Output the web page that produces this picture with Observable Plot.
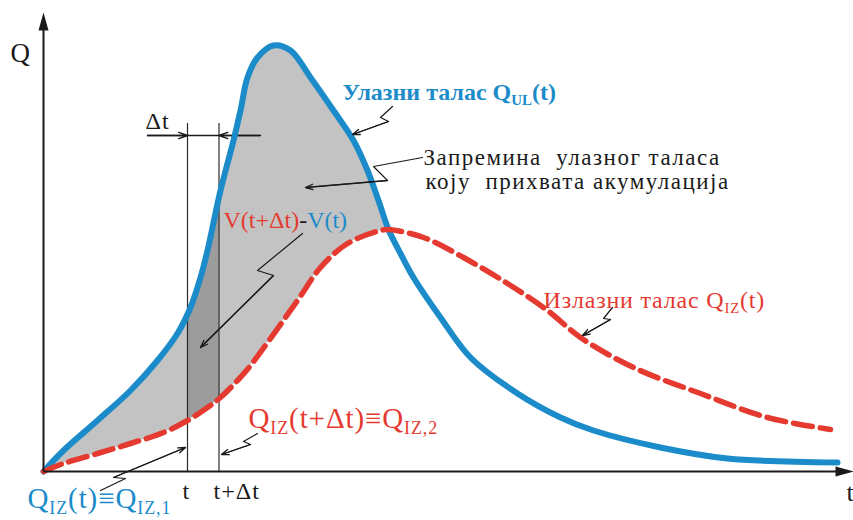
<!DOCTYPE html>
<html>
<head>
<meta charset="utf-8">
<script src="https://cdn.jsdelivr.net/npm/d3@7"></script>
<script src="https://cdn.jsdelivr.net/npm/@observablehq/plot@0.6"></script>
<style>
  body { margin: 0; background: #fff; }
  svg { display: block; }
  svg text { white-space: pre; }
</style>
</head>
<body>
<div id="chart"></div>
<script>
// Inflow hydrograph Q_UL(t)
const inflowT = [0, 2.0, 5.4, 8.7, 11.4, 13.4, 14.7, 15.7, 16.4, 17.7, 19.0, 19.7, 20.4, 21.4, 23.0, 24.7, 26.7, 29.0, 31.0, 32.4, 33.5, 34.5, 35.7, 37.0, 39.7, 42.7, 47.4, 51.7, 55.0, 61.7, 68.4, 79.4];
const inflowQ = [0, 2.1, 5.1, 8.1, 11.1, 13.8, 16.4, 19.4, 22.1, 28.1, 33.1, 36.1, 39.4, 41.4, 42.6, 42.1, 39.4, 36.1, 33.1, 30.1, 27.1, 24.2, 21.8, 19.4, 15.4, 11.4, 7.8, 5.4, 4.1, 2.4, 1.3, 0.9];

// Outflow hydrograph Q_IZ(t)
const outflowT = [0, 2.0, 5.4, 8.7, 12.0, 14.4, 16.4, 17.7, 19.4, 20.7, 25.4, 27.7, 30.4, 33.7, 34.5, 38.0, 42.0, 46.4, 50.4, 53.7, 59.0, 65.7, 72.4, 78.7];
const outflowQ = [0, 0.8, 1.8, 2.8, 3.9, 5.1, 6.4, 7.4, 9.1, 10.6, 17.1, 20.4, 22.8, 24.1, 24.2, 23.4, 21.4, 18.8, 16.1, 13.4, 10.4, 7.8, 5.4, 4.2];

// Time step [t, t+Δt] and the moment the two waves meet
const stepT = 14.4;
const stepDt = 3.15;
const crossT = 34.5;

// Axis extents
const tMax = 81;
const qMax = 45.8;

const inflow = inflowT.map((t, i) => ({t, q: inflowQ[i]}));
const outflow = outflowT.map((t, i) => ({t, q: outflowQ[i]}));

const BLUE = "#1b8bca";
const RED = "#e53a30";
const INK = "#1a1a1a";
const SERIF = "Liberation Serif";
const colors = {b: BLUE, r: RED, k: INK};

// Labels: pieces of text with colour code; a trailing "_" marks a subscript
const labels = [
  {t: -3.3, q: 41.0, size: 27, parts: [["Q", "k"]]},
  {t: 10.2, q: 34.3, size: 24, spacing: 1, parts: [["Δt", "k"]]},
  {t: 29.9, q: 37.2, size: 24, bold: true, parts: [["Улазни талас Q", "b"], ["UL", "b_"], ["(t)", "b"]]},
  {t: 38.0, q: 30.7, size: 23, spacing: 1.5, parts: [["Запремина  улазног таласа", "k"]]},
  {t: 38.2, q: 28.3, size: 23, spacing: 1.5, parts: [["коју  прихвата акумулација", "k"]]},
  {t: 18.0, q: 24.4, size: 24, parts: [["V(t+Δt)", "r"], ["-", "k"], ["V(t)", "b"]]},
  {t: 50.0, q: 16.4, size: 24, spacing: 0.8, parts: [["Излазни талас Q", "r"], ["IZ", "r_"], ["(t)", "r"]]},
  {t: 20.5, q: 4.4, size: 29, spacing: 0.9, parts: [["Q", "r"], ["IZ", "r_"], ["(t+Δt)≡Q", "r"], ["IZ,2", "r_"]]},
  {t: -1.6, q: -3.6, size: 29, spacing: 0.9, parts: [["Q", "b"], ["IZ", "b_"], ["(t)≡Q", "b"], ["IZ,1", "b_"]]},
  {t: 13.9, q: -2.7, size: 24, parts: [["t", "k"]]},
  {t: 17.0, q: -2.7, size: 24, spacing: 1, parts: [["t+Δt", "k"]]},
  {t: 80.3, q: -2.9, size: 26, parts: [["t", "k"]]}
];

// Zig-zag leader lines; the last segment ends in an arrowhead
const leaders = [
  [[34.9, 36.5], [33.7, 35.4], [34.5, 35.0], [30.9, 33.7]],
  [[37.9, 31.4], [33.0, 30.5], [34.4, 29.1], [26.2, 28.4]],
  [[25.9, 23.8], [21.4, 20.1], [23.0, 19.6], [15.7, 12.4]],
  [[56.9, 16.4], [56.0, 15.3], [56.7, 15.2], [53.9, 13.6]],
  [[21.4, 3.8], [20.0, 3.0], [20.7, 2.7], [17.8, 1.7]],
  [[5.7, -1.9], [8.2, -0.7], [7.0, -0.6], [14.2, 2.4]]
];
const leaderPoints = leaders.flatMap((pts, id) => pts.map(([t, q]) => ({id, t, q})));
const leaderHeads = leaders.map((pts) => {
  const [a, b] = pts.slice(-2);
  return {t1: a[0], q1: a[1], t2: b[0], q2: b[1]};
});

// Δt dimension line
const dimQ = 33.6;
const dimLeft = 10.4;
const dimRight = 21.7;
const stepTop = 34.8;

const inflowRise = inflow.filter((d) => d.t <= crossT);
const outflowRise = outflow.filter((d) => d.t <= crossT);

const curve = "catmull-rom";
const hasSpike = typeof Plot.spike === "function";

const axisHeads = hasSpike
  ? [
      Plot.vector([0], {x: 0, y: qMax - 1.7, length: 18, r: 5, rotate: 0, shape: "spike", anchor: "start", fill: INK, stroke: "none"}),
      Plot.vector([0], {x: tMax - 0.1 - 1.7, y: 0, length: 18, r: 5, rotate: 90, shape: "spike", anchor: "start", fill: INK, stroke: "none"})
    ]
  : [
      Plot.arrow([0], {x1: 0, y1: 0, x2: 0, y2: qMax, stroke: INK, strokeWidth: 2, headLength: 16, headAngle: 30}),
      Plot.arrow([0], {x1: 0, y1: 0, x2: tMax - 0.1, y2: 0, stroke: INK, strokeWidth: 2, headLength: 16, headAngle: 30})
    ];

const plot = Plot.plot({
  width: 853,
  height: 520,
  marginLeft: 43,
  marginRight: 0,
  marginTop: 13,
  marginBottom: 49,
  x: {domain: [0, tMax], axis: null},
  y: {domain: [0, qMax], axis: null},
  style: {background: "#fff", overflow: "visible"},
  marks: [
    // storage volume between the two waves
    Plot.areaY(inflowRise, {x: "t", y: "q", fill: "#c3c3c3", curve}),
    Plot.rect([0], {x1: stepT, x2: stepT + stepDt, y1: 0, y2: qMax, fill: "#9c9c9c"}),
    Plot.areaY(inflow, {x: "t", y1: "q", y2: qMax, fill: "#fff", curve}),
    Plot.areaY(outflowRise, {x: "t", y: "q", fill: "#fff", curve}),

    // t and t+Δt verticals with the Δt dimension
    Plot.ruleX([stepT, stepT + stepDt], {y1: 0, y2: stepTop, stroke: "#2a2a2a", strokeWidth: 1.2}),
    Plot.ruleY([dimQ], {x1: dimLeft, x2: dimRight, stroke: INK, strokeWidth: 1.3}),
    Plot.arrow([0], {x1: dimLeft, y1: dimQ, x2: stepT, y2: dimQ, stroke: INK, strokeWidth: 1.4, headLength: 10, headAngle: 40}),
    Plot.arrow([0], {x1: dimRight, y1: dimQ, x2: stepT + stepDt, y2: dimQ, stroke: INK, strokeWidth: 1.4, headLength: 10, headAngle: 40}),

    // hydrographs
    Plot.line(inflow, {x: "t", y: "q", stroke: BLUE, strokeWidth: 6, curve}),
    Plot.line(outflow, {x: "t", y: "q", stroke: RED, strokeWidth: 5.5, strokeDasharray: "19,8", curve}),

    // axes
    Plot.ruleX([0], {y1: 0, y2: qMax - 1.0, stroke: INK, strokeWidth: 2}),
    Plot.ruleY([0], {x1: 0, x2: tMax - 1.0, stroke: INK, strokeWidth: 2}),
    ...axisHeads,

    // leaders
    Plot.line(leaderPoints, {x: "t", y: "q", z: "id", stroke: INK, strokeWidth: 1.2}),
    Plot.arrow(leaderHeads, {x1: "t1", y1: "q1", x2: "t2", y2: "q2", stroke: INK, strokeWidth: 1.3, headLength: 9, headAngle: 40}),

    // labels
    Plot.text(labels, {x: "t", y: "q", text: (d) => d.parts.map((p) => p[0]).join(""), textAnchor: "start", lineAnchor: "bottom", fill: INK, fontFamily: SERIF})
  ]
});

// Rich text: colours, weights, spacing and subscripts
const NS = "http://www.w3.org/2000/svg";
plot.querySelectorAll('g[aria-label="text"] text').forEach((el, i) => {
  const spec = labels[i];
  if (!spec) return;
  el.setAttribute("font-size", spec.size);
  el.setAttribute("font-family", SERIF);
  if (spec.spacing) el.setAttribute("letter-spacing", spec.spacing);
  if (spec.bold) el.setAttribute("font-weight", "bold");
  el.textContent = "";
  const shift = spec.size * 0.22;
  let low = false;
  for (const [str, code] of spec.parts) {
    const ts = document.createElementNS(NS, "tspan");
    ts.textContent = str;
    ts.setAttribute("fill", colors[code[0]]);
    const sub = code.endsWith("_");
    if (sub) {
      ts.setAttribute("font-size", spec.size * 0.62);
      if (!low) { ts.setAttribute("dy", shift); low = true; }
    } else if (low) {
      ts.setAttribute("dy", -shift);
      low = false;
    }
    el.appendChild(ts);
  }
});

document.getElementById("chart").appendChild(plot);
</script>
</body>
</html>
